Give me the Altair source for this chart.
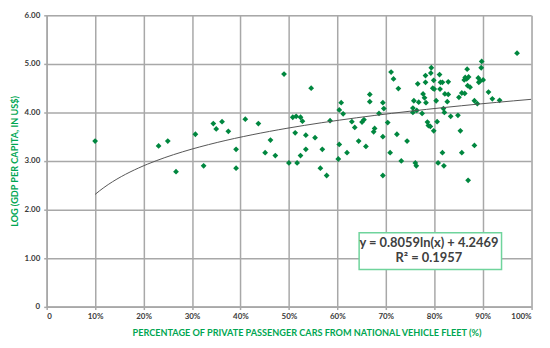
import altair as alt
import pandas as pd

# ---- data ----
x_pct = [10.0, 23.1, 25.0, 26.7, 30.7, 32.4, 34.4, 35.0, 36.2, 37.5,
         39.1, 39.1, 41.0, 43.7, 45.1, 46.2, 47.2, 49.0, 50.0, 50.8,
         51.5, 52.4, 52.8, 51.3, 51.7, 52.4, 53.5, 53.5, 54.6, 55.4,
         56.5, 56.9, 57.8, 58.5, 60.2, 60.4, 60.4, 60.8, 61.2, 62.0,
         63.0, 63.6, 64.4, 65.1, 65.5, 65.9, 66.7, 66.7, 67.5, 67.7,
         68.6, 69.4, 69.6, 69.4, 69.4, 70.4, 70.9, 71.1, 71.6, 72.3,
         72.6, 73.2, 74.4, 75.6, 75.6, 75.8, 76.1, 76.3, 76.4, 76.6,
         76.8, 77.5, 77.7, 78.0, 78.2, 78.2, 78.3, 78.6, 78.8, 79.2,
         79.3, 79.4, 79.7, 79.9, 79.9, 80.0, 80.4, 80.6, 80.8, 81.1,
         81.2, 81.3, 81.7, 81.7, 81.9, 82.0, 82.1, 82.2, 82.7, 82.9,
         82.9, 83.4, 84.9, 85.1, 85.4, 85.7, 85.7, 86.2, 86.3, 86.4,
         86.7, 86.8, 86.9, 87.0, 87.1, 87.4, 88.3, 88.3, 88.9, 89.1,
         89.2, 89.5, 89.7, 89.8, 90.1, 91.2, 92.0, 93.5, 97.1]
y_log = [3.41, 3.31, 3.41, 2.78, 3.55, 2.90, 3.77, 3.66, 3.81, 3.61,
         3.24, 2.85, 3.86, 3.77, 3.17, 3.43, 3.11, 4.79, 2.96, 3.90,
         3.92, 3.90, 3.82, 3.58, 2.96, 3.11, 3.53, 3.24, 4.50, 3.48,
         2.85, 3.24, 2.70, 3.83, 3.04, 3.34, 4.05, 4.20, 3.97, 3.17,
         3.81, 3.69, 3.41, 3.80, 3.85, 3.30, 4.37, 4.22, 3.60, 3.67,
         3.98, 4.20, 4.08, 3.50, 2.70, 3.79, 3.17, 4.83, 4.69, 3.55,
         4.49, 3.00, 3.41, 4.09, 4.00, 4.24, 2.96, 2.90, 4.04, 4.59,
         4.21, 3.98, 4.38, 4.30, 4.76, 4.62, 4.20, 3.80, 3.73, 3.71,
         4.81, 4.92, 4.50, 4.66, 3.62, 4.48, 4.24, 3.81, 2.96, 4.78,
         4.48, 4.62, 4.62, 3.17, 4.08, 2.90, 4.00, 4.38, 4.22, 4.63,
         4.37, 3.92, 3.94, 4.31, 3.62, 4.40, 3.17, 4.67, 4.39, 4.72,
         4.69, 4.89, 4.55, 2.60, 4.73, 4.52, 4.24, 3.32, 4.18, 4.71,
         4.62, 4.65, 4.92, 5.05, 4.67, 4.42, 4.28, 4.25, 5.22]
x_ticks = [0, 10, 20, 30, 40, 50, 60, 70, 80, 90, 100]
y_ticks = [0, 1, 2, 3, 4, 5, 6]
trend_extent = [10, 100]
eq_text = ["y = 0.8059ln(x) + 4.2469", "R\u00b2 = 0.1957"]
eq_x = [78.9, 78.9]
eq_y = [1.307, 0.995]
box_x = [64.5]
box_x2 = [93.9]
box_y = [0.764]
box_y2 = [1.52]

df = pd.DataFrame({"x": x_pct, "y": y_log})
eq_df = pd.DataFrame({"t": eq_text, "x": eq_x, "y": eq_y})
box_df = pd.DataFrame({"x": box_x, "x2": box_x2, "y": box_y, "y2": box_y2})

GRID = "#a8a8a8"
GREEN_T = "#00a652"
GREEN_M = "#00873f"
LBL = "#3a3a3a"
FONT = "Lato, sans-serif"

xscale = alt.Scale(domain=[0, 100], nice=False, zero=True)
yscale = alt.Scale(domain=[0, 6], nice=False, zero=True)

xaxis = alt.Axis(
    values=x_ticks,
    title="PERCENTAGE OF PRIVATE PASSENGER CARS FROM NATIONAL VEHICLE FLEET (%)",
    labelExpr="datum.value == 0 ? '0' : datum.value + '%'",
    grid=True, gridColor=GRID, gridWidth=1.5,
    domainColor=GRID, domainWidth=1.5,
    tickColor=GRID, tickSize=3, tickWidth=1.5,
    labelFont=FONT, labelFontSize=8, labelFontWeight="bold", labelColor=LBL,
    labelPadding=3,
    titleFont=FONT, titleFontSize=9.2, titleFontWeight="bold", titleColor=GREEN_T,
    titlePadding=8, titleX=262, titleAlign="center",
)
yaxis = alt.Axis(
    values=y_ticks,
    title="LOG (GDP PER CAPITA, IN US$)",
    labelExpr="datum.value == 0 ? '0' : format(datum.value, '.2f')",
    grid=True, gridColor=GRID, gridWidth=1.5,
    domainColor=GRID, domainWidth=1.5,
    tickColor=GRID, tickSize=3, tickWidth=1.5,
    labelFont=FONT, labelFontSize=8, labelFontWeight="bold", labelColor=LBL,
    labelPadding=4,
    titleFont=FONT, titleFontSize=9.2, titleFontWeight="bold", titleColor=GREEN_T,
    titlePadding=5,
)

base = alt.Chart(df)

points = base.mark_point(shape="diamond", filled=True, size=34, color=GREEN_M, opacity=1).encode(
    x=alt.X("x:Q", scale=xscale, axis=xaxis),
    y=alt.Y("y:Q", scale=yscale, axis=yaxis),
)

trend = base.transform_regression(
    "x", "y", method="log", extent=trend_extent
).mark_line(color="#555555", strokeWidth=1).encode(
    x=alt.X("x:Q", scale=xscale),
    y=alt.Y("y:Q", scale=yscale),
)

box = alt.Chart(box_df).mark_rect(fill="white", stroke="#6fd49c", strokeWidth=1.5).encode(
    x=alt.X("x:Q", scale=xscale), x2="x2:Q",
    y=alt.Y("y:Q", scale=yscale), y2="y2:Q",
)

eq = alt.Chart(eq_df).mark_text(
    font="Lato, sans-serif", fontSize=13, fontWeight="bold", color="#404040",
    align="center", baseline="middle",
).encode(
    x=alt.X("x:Q", scale=xscale),
    y=alt.Y("y:Q", scale=yscale),
    text="t:N",
)

chart = alt.layer(points, trend, box, eq).properties(
    width=488.5, height=293.7,
    autosize=alt.AutoSizeParams(type="none"),
    padding={"left": 39, "top": 6, "right": 11, "bottom": 31},
).configure_view(stroke=None).configure(background="white")

chart.save("out.html", embed_options={"renderer": "svg", "actions": False})
